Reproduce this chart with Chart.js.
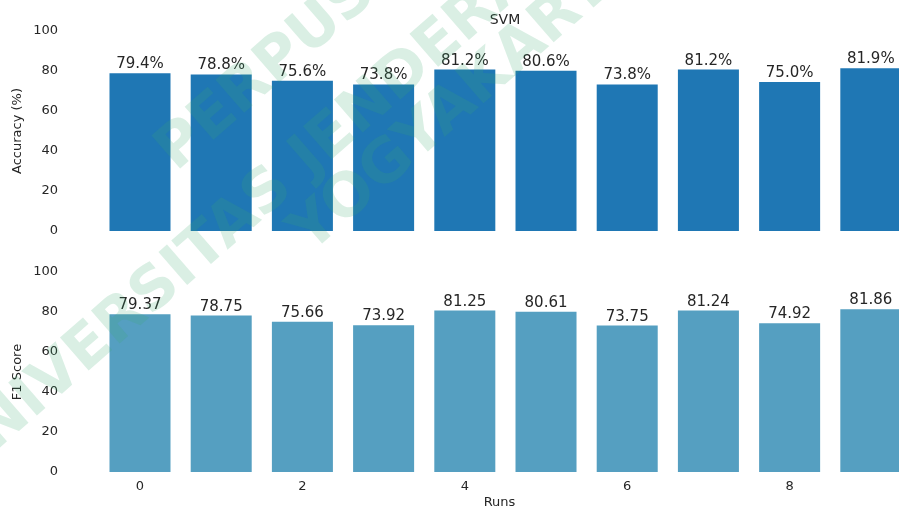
<!DOCTYPE html>
<html>
<head>
<meta charset="utf-8">
<title>SVM runs</title>
<script src="https://cdn.jsdelivr.net/npm/chart.js"></script>
<style>
  html, body { margin: 0; padding: 0; background: #fff; }
  #wrap { position: relative; width: 899px; height: 510px; overflow: hidden; }
  #wrap canvas { position: absolute; left: 0; }
  #accChart { top: 0; }
  #f1Chart { top: 250px; }
  #mark { top: 0; pointer-events: none; }
</style>
</head>
<body>
<div id="wrap">
  <canvas id="accChart" width="899" height="250"></canvas>
  <canvas id="f1Chart" width="899" height="260"></canvas>
  <canvas id="mark" width="899" height="510"></canvas>
</div>
<script>
// values
const runs = [0, 1, 2, 3, 4, 5, 6, 7, 8, 9];
const accuracy = [79.4, 78.8, 75.6, 73.8, 81.2, 80.6, 73.8, 81.2, 75.0, 81.9];
const f1Score = [79.37, 78.75, 75.66, 73.92, 81.25, 80.61, 73.75, 81.24, 74.92, 81.86];
const runTicks = [0, 2, 4, 6, 8];
const yTicks = [0, 20, 40, 60, 80, 100];

const FONT = "'DejaVu Sans', sans-serif";
const TEXT = '#262626';

// labels above each bar
const barLabels = {
  id: 'barLabels',
  afterDatasetsDraw(chart, args, opts) {
    const ctx = chart.ctx;
    const meta = chart.getDatasetMeta(0);
    ctx.save();
    ctx.font = '15px ' + FONT;
    ctx.fillStyle = TEXT;
    ctx.textAlign = 'center';
    ctx.textBaseline = 'alphabetic';
    meta.data.forEach((bar, i) => {
      ctx.fillText(opts.format(chart.data.datasets[0].data[i].y), bar.x, bar.y - 4);
    });
    ctx.restore();
  }
};

const svmTitle = {
  id: 'svmTitle',
  afterDraw(chart) {
    const ctx = chart.ctx;
    ctx.save();
    ctx.font = '14px ' + FONT;
    ctx.fillStyle = TEXT;
    ctx.textAlign = 'center';
    ctx.textBaseline = 'middle';
    ctx.fillText('SVM', 505, 20);
    ctx.restore();
  }
};

function makeChart(id, values, color, yTitle, showRuns, fmt, padTop, xHeight, extra) {
  return new Chart(document.getElementById(id), {
    type: 'bar',
    data: {
      datasets: [{
        data: runs.map((r, i) => ({ x: r, y: values[i] })),
        backgroundColor: color,
        borderColor: 'rgba(255,255,255,0.35)',
        borderWidth: 1,
        categoryPercentage: 0.8,
        barPercentage: 0.97
      }]
    },
    options: {
      responsive: false,
      animation: false,
      layout: { padding: { top: padTop, left: 0, right: 0, bottom: 0 } },
      plugins: {
        legend: { display: false },
        tooltip: { enabled: false },
        barLabels: { format: fmt }
      },
      scales: {
        x: {
          type: 'linear',
          offset: false,
          min: -0.4926,
          max: 9.347,
          grid: { display: false, drawTicks: false },
          border: { display: false },
          afterBuildTicks: s => { s.ticks = runTicks.map(v => ({ value: v })); },
          afterFit: s => { s.height = xHeight; },
          ticks: {
            display: showRuns,
            padding: 7,
            font: { family: FONT, size: 13 },
            color: TEXT,
            maxRotation: 0
          },
          title: {
            display: showRuns,
            text: 'Runs',
            font: { family: FONT, size: 13 },
            color: TEXT,
            padding: { top: 0, bottom: 0 }
          }
        },
        y: {
          min: 0,
          max: 100,
          grid: { display: false, drawTicks: false },
          border: { display: false },
          afterBuildTicks: s => { s.ticks = yTicks.map(v => ({ value: v })); },
          // labels sit far left of the bars; keep that gap out of the vertical padding
          afterFit: s => { s.width = 100; s.paddingTop = 0; s.paddingBottom = 0; },
          ticks: {
            padding: 42,
            font: { family: FONT, size: 13 },
            color: TEXT
          },
          title: {
            display: true,
            text: yTitle,
            font: { family: FONT, size: 13 },
            color: TEXT,
            padding: { top: 10, bottom: 0 }
          }
        }
      }
    },
    plugins: [barLabels].concat(extra)
  });
}

makeChart('accChart', accuracy, '#1f77b4', 'Accuracy (%)', false,
  v => v.toFixed(1) + '%', 31, 19, [svmTitle]);
makeChart('f1Chart', f1Score, '#559fc1', 'F1 Score', true,
  v => v.toFixed(2), 22, 38, []);

// library watermark laid over the scanned figure
const markLines = [
  { text: 'PERPUSTAKAAN', x: 176, y: 172 },
  { text: 'UNIVERSITAS JENDERAL ACHMAD YANI', x: -42, y: 484 },
  { text: 'YOGYAKARTA', x: 310, y: 254 }
];
const mctx = document.getElementById('mark').getContext('2d');
mctx.font = "bold 60px 'DejaVu Sans', sans-serif";
mctx.fillStyle = 'rgba(60,170,110,0.19)';
markLines.forEach(l => {
  mctx.save();
  mctx.translate(l.x, l.y);
  mctx.rotate(-41 * Math.PI / 180);
  mctx.fillText(l.text, 0, 0);
  mctx.restore();
});
</script>
</body>
</html>
